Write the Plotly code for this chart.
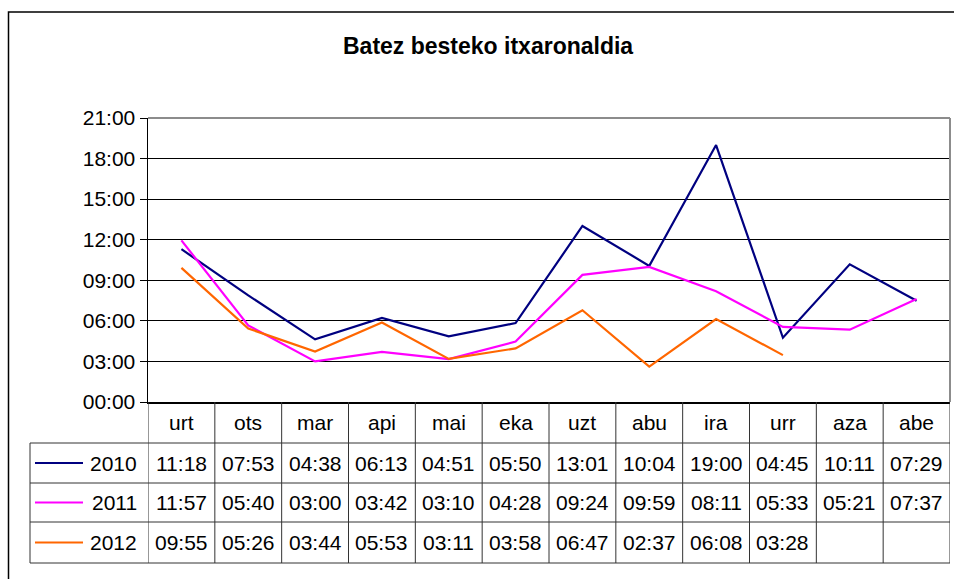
import plotly.graph_objects as go

months = ["urt", "ots", "mar", "api", "mai", "eka", "uzt", "abu", "ira", "urr", "aza", "abe"]
years = ["2010", "2011", "2012"]
v2010 = ["11:18", "07:53", "04:38", "06:13", "04:51", "05:50", "13:01", "10:04", "19:00", "04:45", "10:11", "07:29"]
v2011 = ["11:57", "05:40", "03:00", "03:42", "03:10", "04:28", "09:24", "09:59", "08:11", "05:33", "05:21", "07:37"]
v2012 = ["09:55", "05:26", "03:44", "05:53", "03:11", "03:58", "06:47", "02:37", "06:08", "03:28", "", ""]
ytick_vals = [0, 3, 6, 9, 12, 15, 18, 21]
ytick_text = ["00:00", "03:00", "06:00", "09:00", "12:00", "15:00", "18:00", "21:00"]
title = "Batez besteko itxaronaldia"
colors = ["#000080", "#FF00FF", "#FF6600"]

W, H = 954, 579
L, R, T, B = 148, 950, 118, 402
FONT = "Liberation Sans, Arial, sans-serif"
FS = 21


def to_hours(s):
    if not s:
        return None
    h, m = s.split(":")
    return int(h) + int(m) / 60.0


def px(xp):
    return (xp - L) / (R - L)


def py(yp):
    return (B - yp) / (B - T)


series = [v2010, v2011, v2012]
xs = list(range(len(months)))

fig = go.Figure()
for name, vals, col in zip(years, series, colors):
    fig.add_trace(go.Scatter(
        x=xs, y=[to_hours(v) for v in vals], name=name, mode="lines",
        line=dict(color=col, width=2.2), connectgaps=False,
        hoverinfo="skip", showlegend=False))

shapes = []
annotations = []
line_col = "#333333"

# outer chart border
shapes.append(dict(type="rect", xref="paper", yref="paper",
                   x0=px(8.5), x1=px(1000), y0=py(12), y1=py(620),
                   line=dict(color="black", width=1.5), fillcolor="rgba(0,0,0,0)", layer="below"))
# plot area top/right border (gray)
shapes.append(dict(type="line", xref="paper", yref="paper", x0=0, x1=1, y0=1, y1=1,
                   line=dict(color="#8c8c8c", width=2)))
shapes.append(dict(type="line", xref="paper", yref="paper", x0=1, x1=1, y0=0, y1=1,
                   line=dict(color="#8c8c8c", width=2)))

# table geometry (pixel rows)
row_edges = [402, 443, 483, 522, 563]
left_edge = 30
for ye in row_edges[1:]:
    shapes.append(dict(type="line", xref="paper", yref="paper",
                       x0=px(left_edge), x1=1, y0=py(ye), y1=py(ye),
                       line=dict(color=line_col, width=1)))
for k in range(len(months) + 1):
    shapes.append(dict(type="line", xref="x", yref="paper",
                       x0=k - 0.5, x1=k - 0.5, y0=py(row_edges[0]), y1=py(row_edges[-1]),
                       line=dict(color=line_col, width=1)))
shapes.append(dict(type="line", xref="paper", yref="paper",
                   x0=px(left_edge), x1=px(left_edge), y0=py(row_edges[1]), y1=py(row_edges[-1]),
                   line=dict(color=line_col, width=1)))

hdr_y = py((row_edges[0] + row_edges[1]) / 2)
for i, m in enumerate(months):
    annotations.append(dict(x=i, y=hdr_y, xref="x", yref="paper", text=m, showarrow=False,
                            font=dict(family=FONT, size=FS, color="black"),
                            xanchor="center", yanchor="middle"))

for r, (name, vals, col) in enumerate(zip(years, series, colors)):
    yc = py((row_edges[r + 1] + row_edges[r + 2]) / 2)
    shapes.append(dict(type="line", xref="paper", yref="paper",
                       x0=px(35), x1=px(83), y0=yc, y1=yc,
                       line=dict(color=col, width=2)))
    annotations.append(dict(x=px(139), y=yc, xref="paper", yref="paper", text=name,
                            showarrow=False, font=dict(family=FONT, size=FS, color="black"),
                            xanchor="right", yanchor="middle"))
    for i, v in enumerate(vals):
        if v:
            annotations.append(dict(x=i, y=yc, xref="x", yref="paper", text=v, showarrow=False,
                                    font=dict(family=FONT, size=FS, color="black"),
                                    xanchor="center", yanchor="middle"))

annotations.append(dict(x=px(488), y=py(46), xref="paper", yref="paper", text="<b>" + title + "</b>",
                        showarrow=False, font=dict(family=FONT, size=23, color="black"),
                        xanchor="center", yanchor="middle"))

fig.update_layout(
    width=W, height=H,
    margin=dict(l=L, r=W - R, t=T, b=H - B, pad=0),
    paper_bgcolor="white", plot_bgcolor="white",
    shapes=shapes, annotations=annotations,
    xaxis=dict(range=[-0.5, len(months) - 0.5], showticklabels=False, showgrid=False,
               zeroline=False, showline=True, linecolor="black", linewidth=1.5,
               ticks="", fixedrange=True),
    yaxis=dict(range=[0, 21], tickvals=ytick_vals, ticktext=ytick_text,
               showgrid=True, gridcolor="black", gridwidth=1, zeroline=False,
               showline=True, linecolor="black", linewidth=1.5,
               ticks="outside", ticklen=7, tickcolor="black",
               tickfont=dict(family=FONT, size=FS, color="black"), fixedrange=True),
    showlegend=False,
    hovermode=False,
)

fig.write_html("out.html", config={"displayModeBar": False, "staticPlot": True},
               post_script="document.body.style.margin='0px';document.body.style.overflow='hidden';")
